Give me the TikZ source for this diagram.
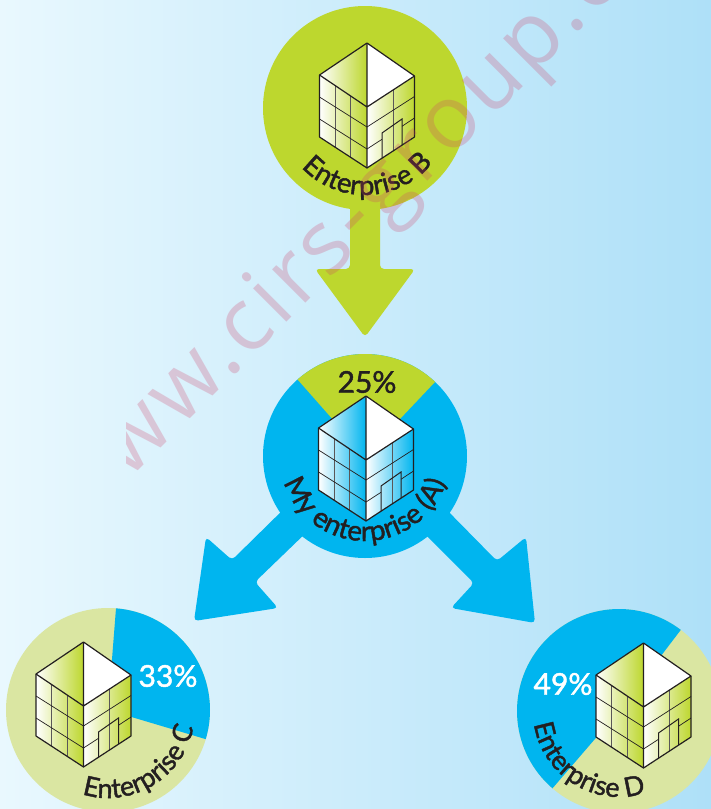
\documentclass[tikz,border=0pt]{standalone}
\usepackage{fontspec}
\usetikzlibrary{decorations.text}
\newfontfamily\lblfont[FakeBold=1.5]{Lato}
\newfontfamily\wmfont[LetterSpace=5]{Open Sans}
\definecolor{bgL}{HTML}{E9F8FE}
\definecolor{bgR}{HTML}{AEE0F8}
\definecolor{lime}{HTML}{BDD72E}
\definecolor{palelime}{HTML}{DAE6A2}
\definecolor{sky}{HTML}{00B5EF}
\definecolor{ink}{HTML}{231F20}
\definecolor{wm}{HTML}{D04068}
\tikzset{
  disc/.style={circle,minimum size=204pt,inner sep=0pt,draw=none,fill=#1},
  arrowshape/.style={fill=#1,rounded corners=4pt},
  pct/.style={font=\lblfont\fontsize{30}{30}\selectfont,text=#1,inner sep=0pt},
  outline/.style={draw=ink,line width=1.2pt,line join=round},
  fine/.style={draw=ink,line width=.7pt},
  greyfine/.style={draw=ink!75,line width=.8pt}
}
% building: #1 x, #2 y of the top vertex, #3 tint
\newcommand{\bldg}[3]{%
\begin{scope}[shift={(#1,#2)}]
  \fill[white] (0,0)--(47.5,-33)--(47.5,-94)--(0,-125)--(-47.5,-94)--(-47.5,-32)--cycle;
  \shade[left color=white,middle color=#3!30!white,right color=#3] (-47.5,-32)--(0,0)--(0,-64)--cycle;
  \shade[left color=white,middle color=#3!30!white,right color=#3] (-47.5,-32)--(0,-64)--(0,-125)--(-47.5,-94)--cycle;
  \shade[left color=white,middle color=#3!30!white,right color=#3] (0,-64)--(47.5,-33)--(47.5,-94)--(0,-125)--cycle;
  \draw[greyfine] (-32,-42)--(-32,-104) (-16.5,-53)--(-16.5,-115) (26,-47)--(26,-108);
  \draw[fine] (-47.5,-54)--(0,-84) (-47.5,-76)--(0,-106);
  \draw[fine] (0,-84)--(47.5,-53.5) (0,-106)--(15,-96.3) (35,-83.3)--(47.5,-75);
  \draw[draw=ink,line width=1pt,line join=miter] (15,-115.2)--(15,-90)--(35,-76)--(35,-102.2);
  \draw[outline] (0,0)--(47.5,-33)--(47.5,-94)--(0,-125)--(-47.5,-94)--(-47.5,-32)--cycle;
  \draw[outline] (-47.5,-32)--(0,-64)--(47.5,-33) (0,0)--(0,-125);
\end{scope}}
% curved label: #1 cx, #2 cy, #3 r, #4 start, #5 end, #6 size, #7 text
\newcommand{\arclabel}[7]{%
\path[decorate,decoration={text along path,text align=center,
   text={|\lblfont\fontsize{#6}{#6}\selectfont\color{ink}|#7}}]
   (#1,#2) ++(#4:#3) arc[start angle=#4,end angle=#5,radius=#3];}
\begin{document}
\begin{tikzpicture}[x=1pt,y=1pt]
\useasboundingbox (0,0) rectangle (711,-809);
\shade[left color=bgL,right color=bgR] (0,0) rectangle (711,-809);

% arrows
\fill[arrowshape=lime] (350,-190)--(350,-269)--(315,-269)--(365,-337)--(415,-269)--(380,-269)--(380,-190)--cycle;
\fill[arrowshape=sky] (290,-503)--(232,-560)--(206,-537)--(194,-621)--(278,-608)--(255,-582)--(312,-527)--cycle;
\fill[arrowshape=sky] (440,-503)--(497,-561)--(526,-537)--(535,-623)--(451,-608)--(474,-583)--(418,-527)--cycle;

% discs
\node[disc=lime] (B) at (365,-108) {};
\node[disc=sky] (A) at (365,-456) {};
\node[disc=palelime] (C) at (108,-710) {};
\node[disc=palelime] (D) at (619,-711) {};

% wedges
\fill[lime] (A.center) -- ++(46.6:102) arc[start angle=46.6,end angle=131.4,radius=102] -- cycle;
\fill[sky] (C.center) -- ++(-16.6:102) arc[start angle=-16.6,end angle=85.5,radius=102] -- cycle;
\fill[sky] (D.center) -- ++(52.7:102) arc[start angle=52.7,end angle=229.3,radius=102] -- cycle;

% buildings
\bldg{367}{-43}{lime}
\bldg{366}{-396}{sky}
\bldg{83.5}{-642}{lime}
\bldg{643.5}{-643}{lime}

% labels
\node[pct=ink] (pA) at (367,-382) {25\%};
\node[pct=white] (pC) at (168,-676) {33\%};
\node[pct=white] (pD) at (563,-684) {49\%};
\arclabel{365}{-108}{87}{192}{352}{27.5}{Enterprise B}
\arclabel{365}{-456}{85}{170}{370}{28}{My enterprise (A)}
\arclabel{108}{-711}{87}{-159}{41}{27}{Enterprise C}
\arclabel{619}{-711}{86}{150}{327}{27}{Enterprise D}

% watermark
\begin{scope}
\clip (126,0) rectangle (711,-809);
\node[rotate=45,anchor=base west,inner sep=0pt,text=wm,opacity=.25,font=\wmfont\fontsize{88}{88}\selectfont] (wmk) at (77,-532) {www.cirs-group.com};
\end{scope}
\end{tikzpicture}
\end{document}
